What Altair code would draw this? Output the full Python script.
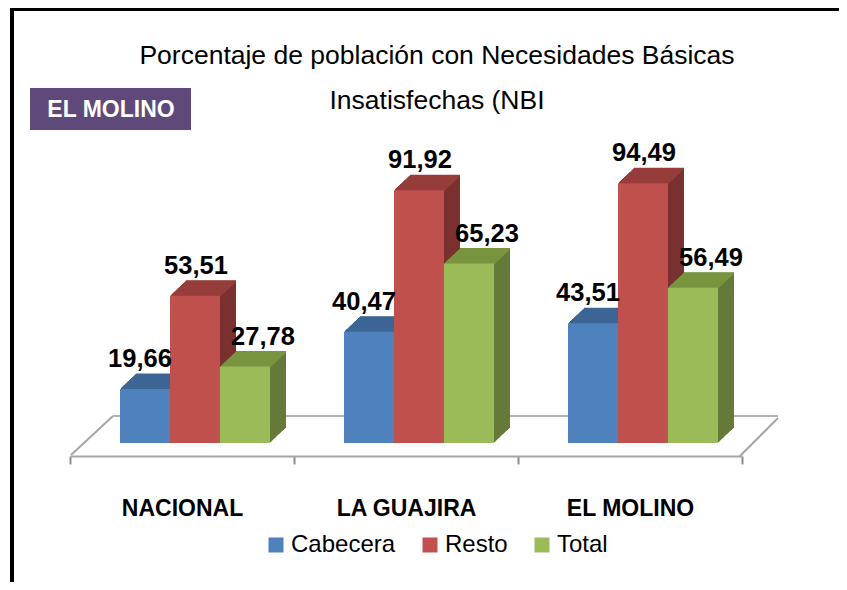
import altair as alt
import pandas as pd

cats = ["NACIONAL", "LA GUAJIRA", "EL MOLINO"]
series = ["Cabecera", "Resto", "Total"]
cabecera = [19.66, 40.47, 43.51]
resto = [53.51, 91.92, 94.49]
total = [27.78, 65.23, 56.49]
title_lines = ["Porcentaje de población con  Necesidades Básicas", "Insatisfechas (NBI"]
badge = ["EL MOLINO"]

front_colors = ["#4f81bd", "#c0504d", "#9bbb59"]
top_colors = ["#3d6696", "#963c3a", "#79943f"]
side_colors = ["#365a86", "#7a302e", "#657a39"]

rows = []
for s, vals in zip(series, [cabecera, resto, total]):
    for c, v in zip(cats, vals):
        rows.append({"cat": c, "serie": s, "value": v,
                     "label": f"{v:.2f}".replace(".", ",")})
df = pd.DataFrame(rows)

FONT = "Liberation Sans, Arial, sans-serif"
W, H = 672, 275
SHIFT = 13       # 3D projection shift of bars (px)
DEPTH = 16       # depth steps
DX, DY = 1.0, 15.0 / 16.0


def xenc(shift=0.0, axis=None):
    return alt.X("cat:N", sort=cats,
                 scale=alt.Scale(domain=cats, paddingInner=0, paddingOuter=0,
                                 range=[shift, W + shift]),
                 axis=axis)


XAXIS = alt.Axis(title=None, labelAngle=0, labelFont=FONT, labelFontSize=23,
                 labelFontWeight="bold", labelColor="black", labelPadding=33,
                 tickBand="extent", offset=13, tickSize=8, tickWidth=2,
                 tickColor="#8c8c8c", domainColor="#a6a6a6", domainWidth=2,
                 grid=False)
XO = alt.XOffset("serie:N", sort=series,
                 scale=alt.Scale(type="band", domain=series, paddingInner=0, paddingOuter=0.74))
Y = alt.Y("value:Q", scale=alt.Scale(domain=[0, 100]), axis=None)

layers = []

# axis carrier (invisible)
layers.append(alt.Chart(df).mark_bar(opacity=0).encode(
    x=xenc(0, XAXIS), xOffset=XO, y=Y))

# floor (back edge and side edges)
floor = pd.DataFrame({"k": [0]})
layers.append(alt.Chart(floor).mark_rule(color="#b3b3b3", strokeWidth=2).encode(
    x=alt.value(43), x2=alt.value(708), y=alt.value(248), y2=alt.value(248)))
layers.append(alt.Chart(floor).mark_rule(color="#a6a6a6", strokeWidth=2).encode(
    x=alt.value(1), x2=alt.value(43), y=alt.value(287), y2=alt.value(248)))
layers.append(alt.Chart(floor).mark_rule(color="#a6a6a6", strokeWidth=2).encode(
    x=alt.value(670), x2=alt.value(708), y=alt.value(288), y2=alt.value(250)))

# 3D extrusions per series
for si, s in enumerate(series):
    base = alt.Chart(df).transform_filter(alt.datum.serie == s)
    for k in range(1, DEPTH + 1):
        layers.append(base.mark_bar(
            color=side_colors[si],
            yOffset=-k * DY, y2Offset=-k * DY).encode(
            x=xenc(SHIFT + k * DX), xOffset=XO, y=Y))
    for k in range(1, DEPTH + 1):
        layers.append(base.mark_bar(
            color=top_colors[si],
            yOffset=-k * DY - 0.5, y2Offset=-k * DY + 1.5).encode(
            x=xenc(SHIFT + k * DX), xOffset=XO, y=Y, y2=alt.Y2("value:Q")))

# front faces with legend
layers.append(alt.Chart(df).mark_bar().encode(
    x=xenc(SHIFT), xOffset=XO, y=Y,
    color=alt.Color("serie:N", sort=series,
                    scale=alt.Scale(domain=series, range=front_colors),
                    legend=alt.Legend(title=None, orient="none", legendX=194, legendY=365,
                                      direction="horizontal", symbolType="square",
                                      symbolSize=225, symbolStrokeWidth=0,
                                      labelFont=FONT, labelFontSize=24, labelColor="black",
                                      labelOffset=3, columnPadding=22))))

# value labels
label_dx = {"Cabecera": -5, "Resto": 1, "Total": 18}
for s in series:
    layers.append(alt.Chart(df).transform_filter(alt.datum.serie == s).mark_text(
        font=FONT, fontSize=25.5, fontWeight="bold", color="black",
        baseline="alphabetic", dy=-22, dx=label_dx[s]).encode(
        x=xenc(SHIFT), xOffset=XO, y=Y, text="label:N"))

# title
for i, t in enumerate(title_lines):
    layers.append(alt.Chart(pd.DataFrame({"t": [t]})).mark_text(
        font=FONT, fontSize=26.5, color="black", baseline="alphabetic", align="center").encode(
        x=alt.value(367), y=alt.value(-104 + 45 * i), text="t:N"))

# badge
layers.append(alt.Chart(pd.DataFrame({"t": badge})).mark_rect(color="#5f497a").encode(
    x=alt.value(-40), x2=alt.value(121), y=alt.value(-80), y2=alt.value(-38)))
layers.append(alt.Chart(pd.DataFrame({"t": badge})).mark_text(
    font=FONT, fontSize=23, fontWeight="bold", color="white", baseline="middle",
    align="center").encode(x=alt.value(41), y=alt.value(-58), text="t:N"))

# frame lines
layers.append(alt.Chart(floor).mark_rule(color="black", strokeWidth=4).encode(
    x=alt.value(-58), x2=alt.value(-58), y=alt.value(-162), y2=alt.value(430)))
layers.append(alt.Chart(floor).mark_rule(color="black", strokeWidth=4).encode(
    x=alt.value(-60), x2=alt.value(780), y=alt.value(-159), y2=alt.value(-159)))

chart = alt.layer(*layers).resolve_scale(x="independent", xOffset="independent").properties(
    width=W, height=H, autosize="none",
    padding={"left": 62, "top": 160, "right": 97, "bottom": 139},
).configure_view(stroke=None)

chart.save("out.html", embed_options={"renderer": "svg", "actions": False})
